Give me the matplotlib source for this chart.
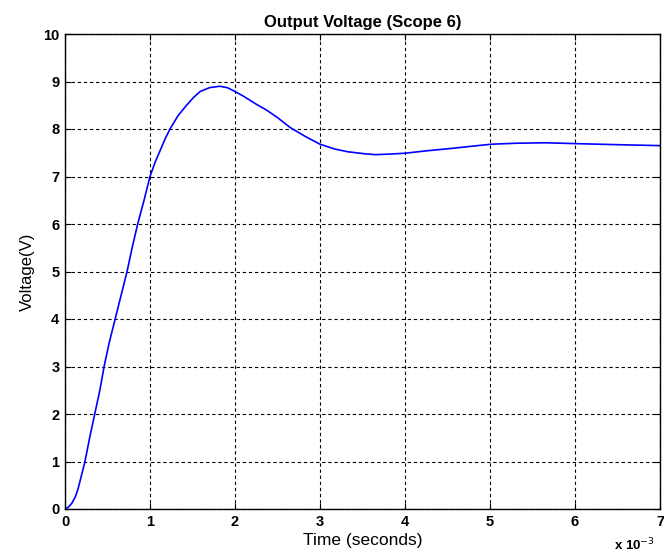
import numpy as np
import matplotlib.pyplot as plt

# output voltage (time in ms, volts)
time_ms = [0.0, 0.04, 0.08, 0.12, 0.15, 0.2, 0.235, 0.29, 0.35, 0.41, 0.46, 0.52,
           0.59, 0.66, 0.73, 0.79, 0.855, 0.93, 1.0, 1.06, 1.12, 1.18, 1.235,
           1.33, 1.43, 1.51, 1.59, 1.7, 1.82, 1.91, 2.0, 2.09, 2.18, 2.27, 2.37,
           2.5, 2.65, 2.82, 3.0, 3.17, 3.33, 3.52, 3.65, 3.8, 4.0, 4.25, 4.54,
           4.8, 5.02, 5.3, 5.65, 6.05, 6.5, 7.0]
voltage = [0.0, 0.04, 0.12, 0.25, 0.4, 0.75, 1.0, 1.5, 2.0, 2.5, 3.0, 3.5,
           4.0, 4.5, 5.0, 5.5, 6.0, 6.5, 7.0, 7.3, 7.55, 7.8, 8.0,
           8.28, 8.5, 8.66, 8.79, 8.87, 8.9, 8.87, 8.79, 8.7, 8.6, 8.5, 8.4,
           8.24, 8.03, 7.85, 7.68, 7.58, 7.52, 7.48, 7.46, 7.47, 7.49, 7.54, 7.59,
           7.64, 7.68, 7.7, 7.71, 7.69, 7.67, 7.65]

xticks = [0, 1, 2, 3, 4, 5, 6, 7]
yticks = [0, 1, 2, 3, 4, 5, 6, 7, 8, 9, 10]

plt.rcParams['font.family'] = ['Liberation Sans', 'DejaVu Sans']

fig = plt.figure(figsize=(6.64, 5.55), dpi=100)
ax = fig.add_axes([65 / 664, 1 - 509 / 555, 595 / 664, 475 / 555])

ax.plot(time_ms, voltage, color='#0000ff', lw=1.2)

ax.set_xlim(0, 7)
ax.set_ylim(0, 10)
ax.set_xticks(xticks)
ax.set_yticks(yticks)
ax.set_xticklabels([str(v) for v in xticks], fontweight='bold', fontsize=10.5)
ax.set_yticklabels([str(v) for v in yticks], fontweight='bold', fontsize=10.5)
ax.tick_params(direction='in', length=4, width=0.8, top=True, right=True, pad=4)

ax.grid(True, color='black', linestyle=(0, (3, 2.5)), linewidth=0.8)
for s in ax.spines.values():
    s.set_linewidth(1.0)

ax.set_title('Output Voltage (Scope 6)', fontweight='bold', fontsize=12, pad=5)
ax.set_xlabel('Time (seconds)', fontsize=12.5, labelpad=3)
ax.set_ylabel('Voltage(V)', fontsize=12, labelpad=6)
fig.text(634 / 664, 1 - 545 / 555, 'x 10$^{-3}$', fontweight='bold', fontsize=9.5,
         ha='center', va='center')

fig.savefig('out.png', dpi=100)
